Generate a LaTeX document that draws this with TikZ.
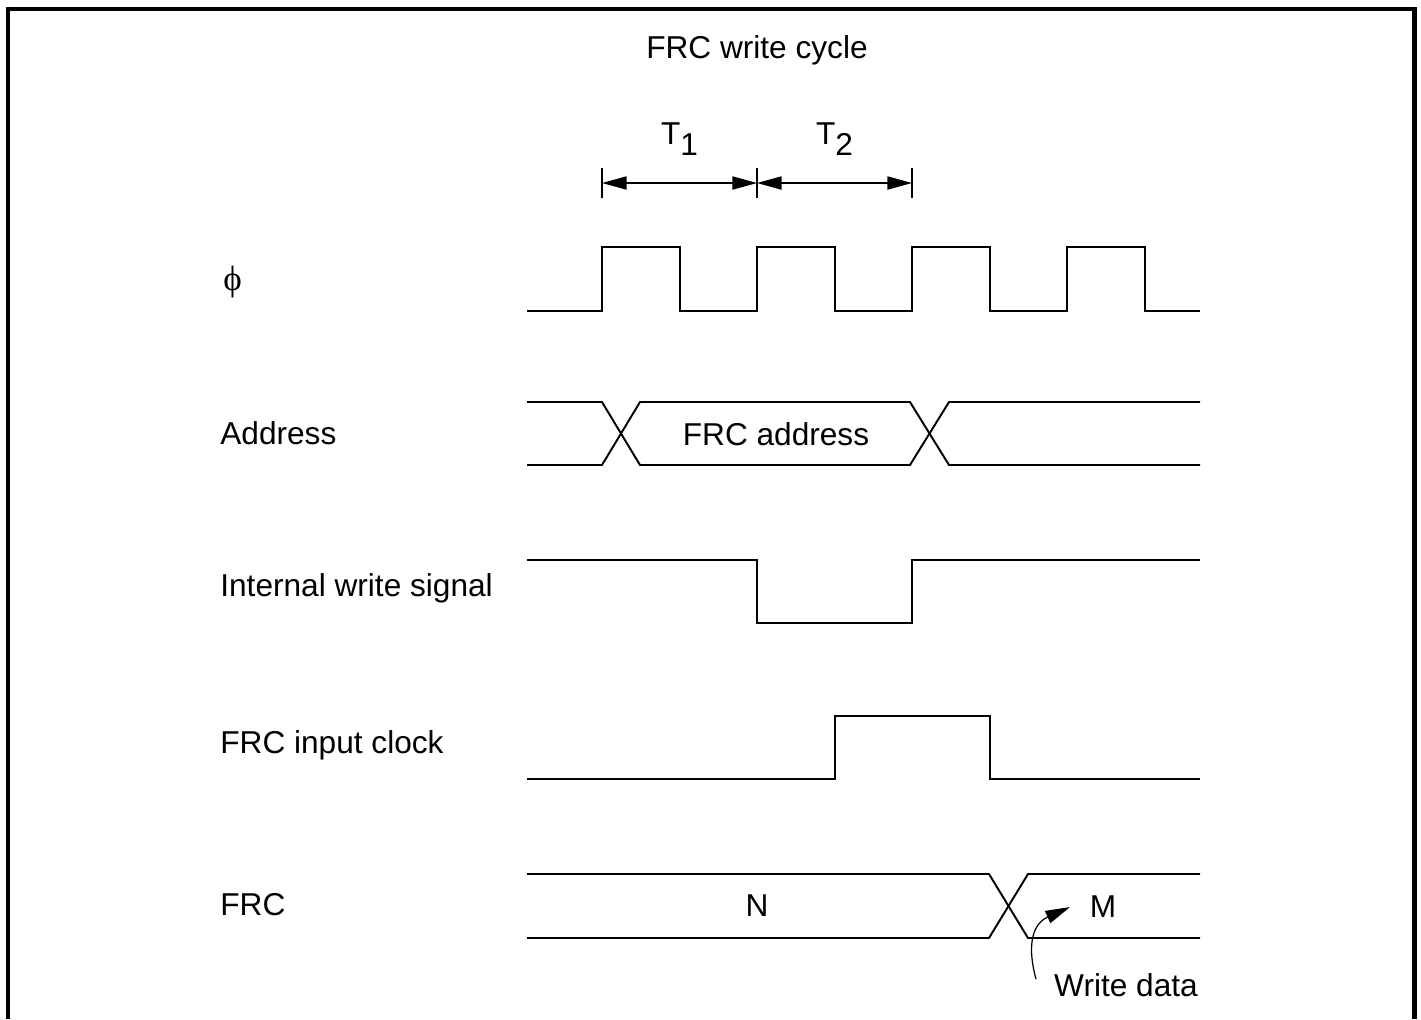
\documentclass[tikz,border=0pt]{standalone}
\usepackage{fontspec}
\setmainfont{Liberation Sans}
\newfontfamily\phifont{Liberation Serif}
\usetikzlibrary{arrows.meta}
\begin{document}
\begin{tikzpicture}[x=0.02cm,y=-0.02cm,
  sig/.style={line width=1.1pt, line join=miter},
  lbl/.style={font=\fontsize{18}{20}\selectfont, inner sep=0pt},
  llbl/.style={lbl, anchor=west},
  dim/.style={line width=0.7pt, {Triangle[length=14pt,width=7.5pt]}-{Triangle[length=14pt,width=7.5pt]}},
  tick/.style={line width=0.7pt}]
\useasboundingbox (0,0) rectangle (1421,1019);
% frame (open at bottom)
\draw[line width=2.3pt] (8,1019) -- (8,9) -- (1414.5,9) -- (1414.5,1019);
% title
\node[lbl] (title) at (757,50) {FRC write cycle};
% T1/T2 dimensions
\coordinate (t0) at (602,183);
\coordinate (t1) at (757,183);
\coordinate (t2) at (912,183);
\draw[tick] (602,168) -- (602,198);
\draw[tick] (757,168) -- (757,198);
\draw[tick] (912,168) -- (912,198);
\draw[dim] (t0) -- (t1);
\draw[dim] (t1) -- (t2);
\node[lbl] (T1) at (680,139) {T\textsubscript{\fontsize{18}{20}\selectfont 1}};
\node[lbl] (T2) at (835,139) {T\textsubscript{\fontsize{18}{20}\selectfont 2}};
% signal labels
\node[lbl, anchor=west] (phi) at (223,282) {\fontsize{20}{22}\selectfont\phifont ϕ};
\node[llbl] (addr) at (220,433) {Address};
\node[llbl] (iws) at (220,588) {Internal write signal};
\node[llbl] (fic) at (220,745) {FRC input clock};
\node[llbl] (frc) at (220,905) {FRC};
% phi clock
\draw[sig] (527,311) -- (602,311) -- (602,247) -- (680,247) -- (680,311)
  -- (757,311) -- (757,247) -- (835,247) -- (835,311)
  -- (912,311) -- (912,247) -- (990,247) -- (990,311)
  -- (1067,311) -- (1067,247) -- (1145,247) -- (1145,311) -- (1200,311);
% address bus
\draw[sig] (527,402) -- (602,402) -- (640,465) -- (910,465) -- (949,402) -- (1200,402);
\draw[sig] (527,465) -- (602,465) -- (640,402) -- (910,402) -- (949,465) -- (1200,465);
\node[lbl] (faddr) at (776,434) {FRC address};
% internal write signal
\draw[sig] (527,560) -- (757,560) -- (757,623) -- (912,623) -- (912,560) -- (1200,560);
% FRC input clock
\draw[sig] (527,779) -- (835,779) -- (835,716) -- (990,716) -- (990,779) -- (1200,779);
% FRC bus
\draw[sig] (527,874) -- (989,874) -- (1028,938) -- (1200,938);
\draw[sig] (527,938) -- (989,938) -- (1028,874) -- (1200,874);
\node[lbl] (N) at (757,906) {N};
\node[lbl] (M) at (1103,907) {M};
\node[lbl] (wd) at (1126,985) {Write data};
\coordinate (wdstart) at (1036,979);
\coordinate (wdtip) at (1070,907);
\draw[line width=0.7pt, -{Triangle[length=14pt,width=7.5pt]}] (wdstart) .. controls (1028,950) and (1030,925) .. (wdtip);
\end{tikzpicture}
\end{document}
